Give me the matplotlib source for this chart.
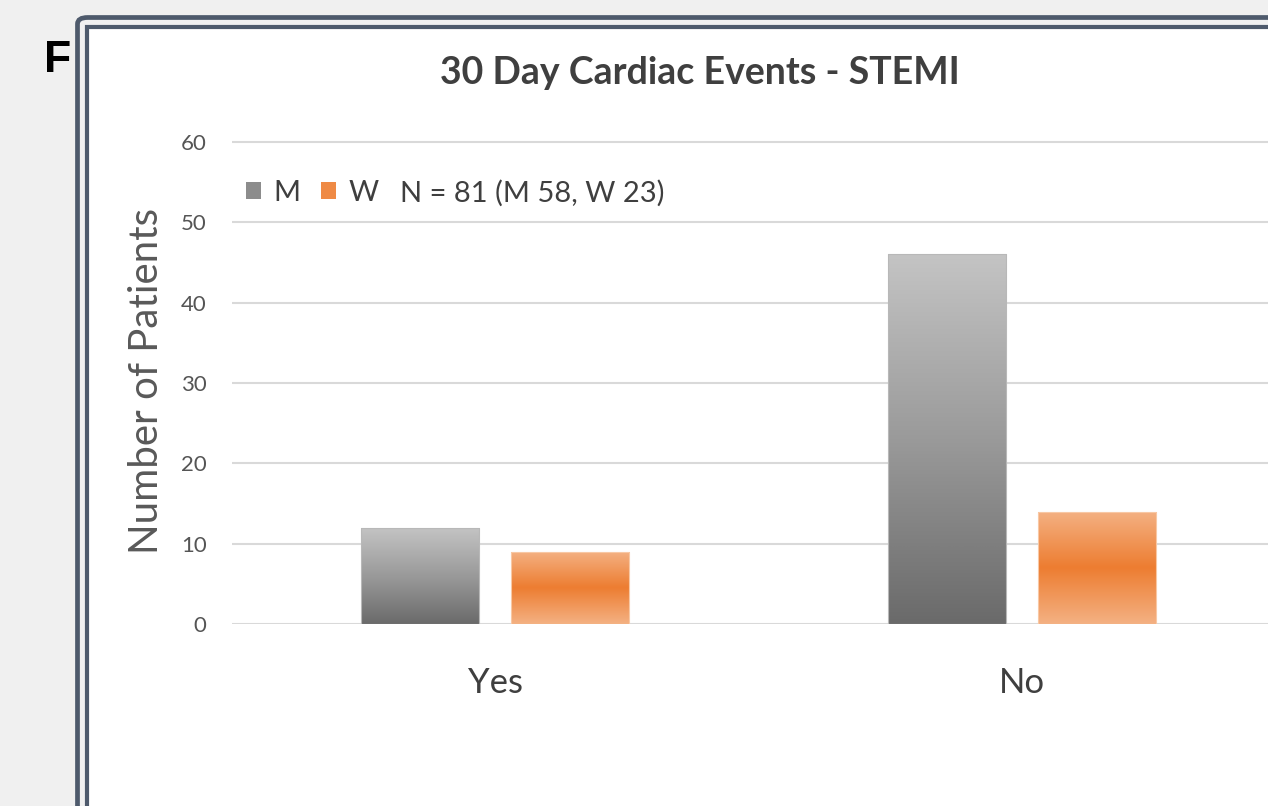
import numpy as np
import matplotlib.pyplot as plt
from matplotlib.patches import Rectangle, FancyBboxPatch, Patch
from matplotlib.colors import LinearSegmentedColormap

# data
categories = ['Yes', 'No']
men = [12, 46]
women = [9, 14]
y_ticks = [0, 10, 20, 30, 40, 50, 60]
legend_labels = ['M', 'W']
n_note = 'N = 81 (M 58, W 23)'
title = '30 Day Cardiac Events - STEMI'
ylabel = 'Number of Patients'

W_PX, H_PX = 1268, 806
plt.rcParams['font.family'] = ['Lato', 'DejaVu Sans']
txt_col = '#3f3f3f'

fig = plt.figure(figsize=(W_PX / 100, H_PX / 100), dpi=100, facecolor='#f0f0f0')

def fx(px):
    return px / W_PX

def fy(py):
    return 1 - py / H_PX

# white panel and double frame
fig.add_artist(Rectangle((fx(88), fy(H_PX + 20)), fx(1400), fy(28) - fy(H_PX + 20),
                         transform=fig.transFigure, facecolor='white', edgecolor='none', zorder=0))
fig.add_artist(FancyBboxPatch((fx(77.5), fy(H_PX + 30)), fx(1400), fy(17.5) - fy(H_PX + 30),
                              boxstyle='round,pad=0,rounding_size=0.008',
                              transform=fig.transFigure, facecolor='none',
                              edgecolor='#4e5a6c', lw=3.4, zorder=1))
fig.add_artist(Rectangle((fx(87), fy(H_PX + 30)), fx(1400), fy(27) - fy(H_PX + 30),
                         transform=fig.transFigure, facecolor='none',
                         edgecolor='#4e5a6c', lw=3.0, zorder=1))
fig.text(fx(44), fy(72), 'F', fontsize=32, fontweight='bold', color='black',
         family=['Liberation Sans', 'DejaVu Sans'])

# axes
ax = fig.add_axes([fx(231.5), fy(624), fx(1054), (61 * 8.033) / H_PX])
ax.set_facecolor('none')
x = np.arange(len(categories))
bw = 0.224
off = 0.142
bars_m = ax.bar(x - off, men, bw, facecolor='none', edgecolor='#b8b8b8', lw=0.8, zorder=3)
bars_w = ax.bar(x + off, women, bw, facecolor='none', edgecolor='#f8c8a4', lw=0.8, zorder=3)

gray_cmap = LinearSegmentedColormap.from_list('g', ['#6a6a6a', '#9a9a9a', '#c4c4c4'])
orange_cmap = LinearSegmentedColormap.from_list('o', ['#f4b183', '#ed7d31', '#f4b183'])
grad = np.linspace(0, 1, 256).reshape(-1, 1)

for bars, cmap in [(bars_m, gray_cmap), (bars_w, orange_cmap)]:
    for b in bars:
        x0, w, h = b.get_x(), b.get_width(), b.get_height()
        im = ax.imshow(grad, cmap=cmap, aspect='auto', origin='lower',
                       extent=(x0, x0 + w, 0, h), zorder=2, interpolation='bicubic')
        im.set_clip_path(b)

ax.set_xlim(-0.5, 1.5)
ax.set_ylim(0, 61)
ax.set_yticks(y_ticks)
ax.set_xticks(x)
ax.set_xticklabels(categories, fontsize=25, color=txt_col)
ax.tick_params(axis='y', labelsize=16, colors='#555555', length=0, pad=18)
ax.tick_params(axis='x', length=0, pad=31)
ax.yaxis.grid(True, color='#d9d9d9', lw=1.5, zorder=1)
ax.set_axisbelow(True)
for s in ax.spines.values():
    s.set_visible(False)

fig.text(fx(147), fy(381), ylabel, rotation=90, fontsize=29, color='#595959',
         ha='center', va='center')
fig.text(fx(700), fy(73), title, fontsize=27, fontweight='bold', color=txt_col,
         ha='center', va='center')

handles = [Patch(facecolor='#8c8c8c', edgecolor='none'),
           Patch(facecolor='#ef8a45', edgecolor='none')]
leg = fig.legend(handles, legend_labels, loc='upper left', ncol=2, frameon=False,
                 bbox_to_anchor=(fx(246), fy(180)), fontsize=21, handlelength=0.5,
                 handleheight=0.5, handletextpad=0.45, columnspacing=0.7,
                 borderaxespad=0, borderpad=0)
for t in leg.get_texts():
    t.set_color(txt_col)
fig.text(fx(400), fy(193), n_note, fontsize=21, color=txt_col, va='center')

fig.savefig('out.png', dpi=100, facecolor=fig.get_facecolor())
